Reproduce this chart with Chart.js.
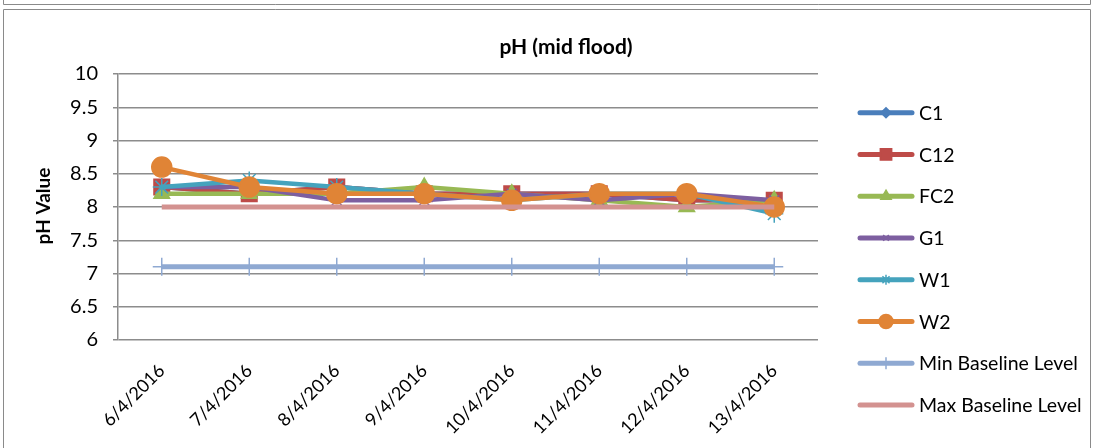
<!DOCTYPE html>
<html>
<head>
<meta charset="utf-8">
<script src="https://cdn.jsdelivr.net/npm/chart.js@4/dist/chart.umd.min.js"></script>
<style>
html,body{margin:0;padding:0;background:#fff;}
#wrap{position:relative;width:1094px;height:448px;}
</style>
</head>
<body>
<div id="wrap"><canvas id="c" width="1094" height="448"></canvas></div>
<script>
const categories = ['6/4/2016','7/4/2016','8/4/2016','9/4/2016','10/4/2016','11/4/2016','12/4/2016','13/4/2016'];
const C1  = [8.3, 8.2, 8.3, 8.2, 8.2, 8.2, 8.1, 8.1];
const C12 = [8.3, 8.2, 8.3, 8.2, 8.2, 8.2, 8.1, 8.1];
const FC2 = [8.2, 8.2, 8.2, 8.3, 8.2, 8.1, 8.0, 8.1];
const G1  = [8.3, 8.3, 8.1, 8.1, 8.2, 8.1, 8.2, 8.1];
const W1  = [8.3, 8.4, 8.3, 8.2, 8.1, 8.2, 8.2, 7.9];
const W2  = [8.6, 8.3, 8.2, 8.2, 8.1, 8.2, 8.2, 8.0];
const minBaseline = [7.1, 7.1, 7.1, 7.1, 7.1, 7.1, 7.1, 7.1];
const maxBaseline = [8.0, 8.0, 8.0, 8.0, 8.0, 8.0, 8.0, 8.0];
const yTicks = {min: 6, max: 10, step: 0.5};

const FONT = 'Lato, "Open Sans", sans-serif';

function ds(label, data, color, style, radius, order, legendRadius, extra) {
  return Object.assign({
    label, data, borderColor: color, backgroundColor: color,
    pointBackgroundColor: color, pointBorderColor: color,
    pointStyle: style, pointRadius: radius, pointHoverRadius: radius,
    pointBorderWidth: 1.5, borderWidth: 4.5, tension: 0, order,
    legendRadius
  }, extra || {});
}

const datasets = [
  ds('C1', C1, '#4a7ebb', 'rectRot', 7, 7, 5),
  ds('C12', C12, '#be4b48', 'rect', 11, 6, 8),
  ds('FC2', FC2, '#98b954', 'triangle', 9, 5, 6),
  ds('G1', G1, '#7d5fa0', 'crossRot', 7, 4, 4),
  ds('W1', W1, '#45a3bd', 'star', 9, 3, 5),
  ds('W2', W2, '#e08436', 'circle', 10, 2, 7),
  ds('Min Baseline Level', minBaseline, '#8fa9d2', 'cross', 9, 1, 6, {borderWidth: 5}),
  ds('Max Baseline Level', maxBaseline, '#d39290', false, 0, 0, 0, {borderWidth: 5, pointRadius: 0})
];

const decor = {
  id: 'decor',
  beforeDraw(chart) {
    const ctx = chart.ctx;
    ctx.save();
    ctx.fillStyle = '#fff';
    ctx.fillRect(0, 0, chart.width, chart.height);
    ctx.strokeStyle = '#8a8a8a';
    ctx.lineWidth = 1;
    ctx.beginPath();
    ctx.moveTo(3.5, 0); ctx.lineTo(3.5, 4.5); ctx.lineTo(1090.5, 4.5); ctx.lineTo(1090.5, 0);
    ctx.stroke();
    ctx.beginPath();
    ctx.moveTo(3.5, 448); ctx.lineTo(3.5, 9.5); ctx.lineTo(1090.5, 9.5); ctx.lineTo(1090.5, 448);
    ctx.stroke();
    ctx.restore();
  },
  afterDraw(chart) {
    const ctx = chart.ctx;
    ctx.save();
    ctx.fillStyle = '#000';
    ctx.font = 'bold 21px ' + FONT;
    ctx.textAlign = 'center';
    ctx.textBaseline = 'middle';
    ctx.fillText('pH (mid flood)', 566, 47);
    ctx.save();
    ctx.translate(44, 206);
    ctx.rotate(-Math.PI / 2);
    ctx.font = 'bold 19px ' + FONT;
    ctx.fillText('pH Value', 0, 0);
    ctx.restore();
    ctx.font = '19.5px ' + FONT;
    ctx.textAlign = 'left';
    chart.data.datasets.forEach((d, i) => {
      const y = 112.7 + i * 41.75;
      ctx.strokeStyle = d.borderColor;
      ctx.lineWidth = 5;
      ctx.lineCap = 'round';
      ctx.beginPath();
      ctx.moveTo(860, y); ctx.lineTo(912, y);
      ctx.stroke();
      if (d.pointStyle) {
        ctx.fillStyle = d.pointBackgroundColor;
        ctx.strokeStyle = d.pointBorderColor;
        ctx.lineWidth = 1.5;
        ctx.lineCap = 'butt';
        Chart.helpers.drawPoint(ctx, {pointStyle: d.pointStyle, radius: d.legendRadius, borderWidth: 1.5, rotation: 0}, 886, y);
      }
      ctx.fillStyle = '#000';
      ctx.fillText(d.label, 919, y + 1);
    });
    ctx.restore();
  }
};

new Chart(document.getElementById('c'), {
  type: 'line',
  data: { labels: categories, datasets },
  options: {
    responsive: false,
    animation: false,
    layout: { padding: { left: 0, top: 74, right: 276, bottom: 0 } },
    plugins: { legend: { display: false }, title: { display: false }, tooltip: { enabled: false } },
    scales: {
      x: {
        offset: true,
        grid: { display: false },
        border: { display: false },
        ticks: { color: '#000', font: { family: FONT, size: 18 }, maxRotation: 45, minRotation: 45, padding: 12 },
        afterFit(s) { s.height = 108; }
      },
      y: {
        min: yTicks.min, max: yTicks.max,
        ticks: { stepSize: yTicks.step, color: '#000', font: { family: FONT, size: 20 }, padding: 15,
                 callback: v => String(Math.round(v * 10) / 10) },
        grid: { color: '#8c8c8c', lineWidth: 1.5, tickLength: 5 },
        border: { color: '#8c8c8c', width: 1.5 },
        afterFit(s) { s.width = 118; }
      }
    }
  },
  plugins: [decor]
});
</script>
</body>
</html>
